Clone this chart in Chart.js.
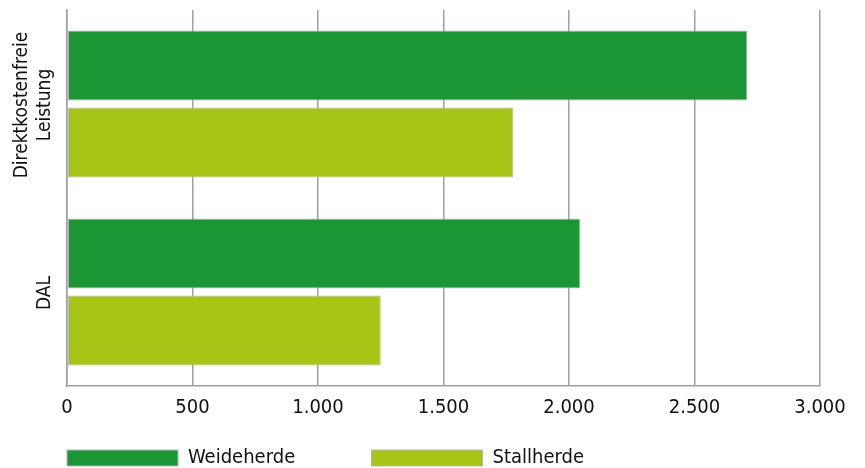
<!DOCTYPE html>
<html>
<head>
<meta charset="utf-8">
<script src="https://cdn.jsdelivr.net/npm/chart.js@4.4.1/dist/chart.umd.min.js"></script>
<style>
  html, body { margin: 0; padding: 0; background: #fff; }
  #wrap { width: 865px; height: 468px; }
</style>
</head>
<body>
<div id="wrap"><canvas id="barChart"></canvas></div>
<script>
// data
const categories = [['Direktkostenfreie', 'Leistung'], ['DAL']];
const seriesNames = ['Weideherde', 'Stallherde'];
const weideherde = [2710, 2045];
const stallherde = [1778, 1250];
const xMin = 0;
const xMax = 3000;
const xStep = 500;

const fontFamily = "'Liberation Sans Narrow', 'DejaVu Sans Condensed', 'Roboto', sans-serif";
const gridGrey = '#a0a0a0';

// german thousands separator
function formatTick(value) {
    return String(value).replace(/\B(?=(\d{3})+(?!\d))/g, '.');
}

// rotated category labels on the left side
const rotatedLabels = {
    id: 'rotatedLabels',
    afterDraw(chart) {
        const yScale = chart.scales.y;
        const ctx = chart.ctx;
        const lineHeight = 23;
        ctx.save();
        ctx.font = '19px ' + fontFamily;
        ctx.fillStyle = '#111';
        ctx.textAlign = 'center';
        ctx.textBaseline = 'middle';
        categories.forEach((lines, i) => {
            const y = yScale.getPixelForTick(i);
            ctx.save();
            ctx.translate(45, y + 1);
            ctx.rotate(-Math.PI / 2);
            lines.forEach((line, j) => {
                ctx.fillText(line, 0, -(lines.length - 1 - j) * lineHeight);
            });
            ctx.restore();
        });
        ctx.restore();
    }
};

const ctx = document.getElementById('barChart').getContext('2d');
const barChart = new Chart(ctx, {
    type: 'bar',
    data: {
        labels: categories,
        datasets: [
            {
                label: seriesNames[0],
                data: weideherde,
                backgroundColor: '#1c9535',
                borderColor: '#b4b4b4',
                borderWidth: 1,
                borderSkipped: false
            },
            {
                label: seriesNames[1],
                data: stallherde,
                backgroundColor: '#a6c516',
                borderColor: '#b4b4b4',
                borderWidth: 1,
                borderSkipped: false
            }
        ]
    },
    options: {
        indexAxis: 'y',
        responsive: true,
        maintainAspectRatio: false,
        animation: false,
        categoryPercentage: 0.82,
        barPercentage: 0.91,
        layout: {
            padding: { left: 65, right: 45, top: 10, bottom: -10 }
        },
        scales: {
            x: {
                min: xMin,
                max: xMax,
                ticks: {
                    stepSize: xStep,
                    color: '#111',
                    padding: 10,
                    font: { family: fontFamily, size: 20 },
                    callback: value => formatTick(value)
                },
                grid: {
                    color: gridGrey,
                    lineWidth: 1.5,
                    drawTicks: false
                },
                border: { color: gridGrey, width: 1.5 },
                afterFit(scale) {
                    scale.height = 60;
                }
            },
            y: {
                ticks: { display: false },
                grid: { display: false },
                border: { color: gridGrey, width: 1.5 },
                afterFit(scale) {
                    scale.width = 2;
                }
            }
        },
        plugins: {
            legend: {
                position: 'bottom',
                align: 'start',
                labels: {
                    boxWidth: 111,
                    boxHeight: 16,
                    padding: 2,
                    color: '#111',
                    font: { family: fontFamily, size: 20, lineHeight: 1 },
                    generateLabels(chart) {
                        const items = Chart.defaults.plugins.legend.labels.generateLabels(chart);
                        // extra room after the first label, like the original
                        items[0].text = items[0].text + ' '.repeat(13);
                        return items;
                    }
                }
            },
            tooltip: { enabled: false }
        }
    },
    plugins: [rotatedLabels]
});
</script>
</body>
</html>
